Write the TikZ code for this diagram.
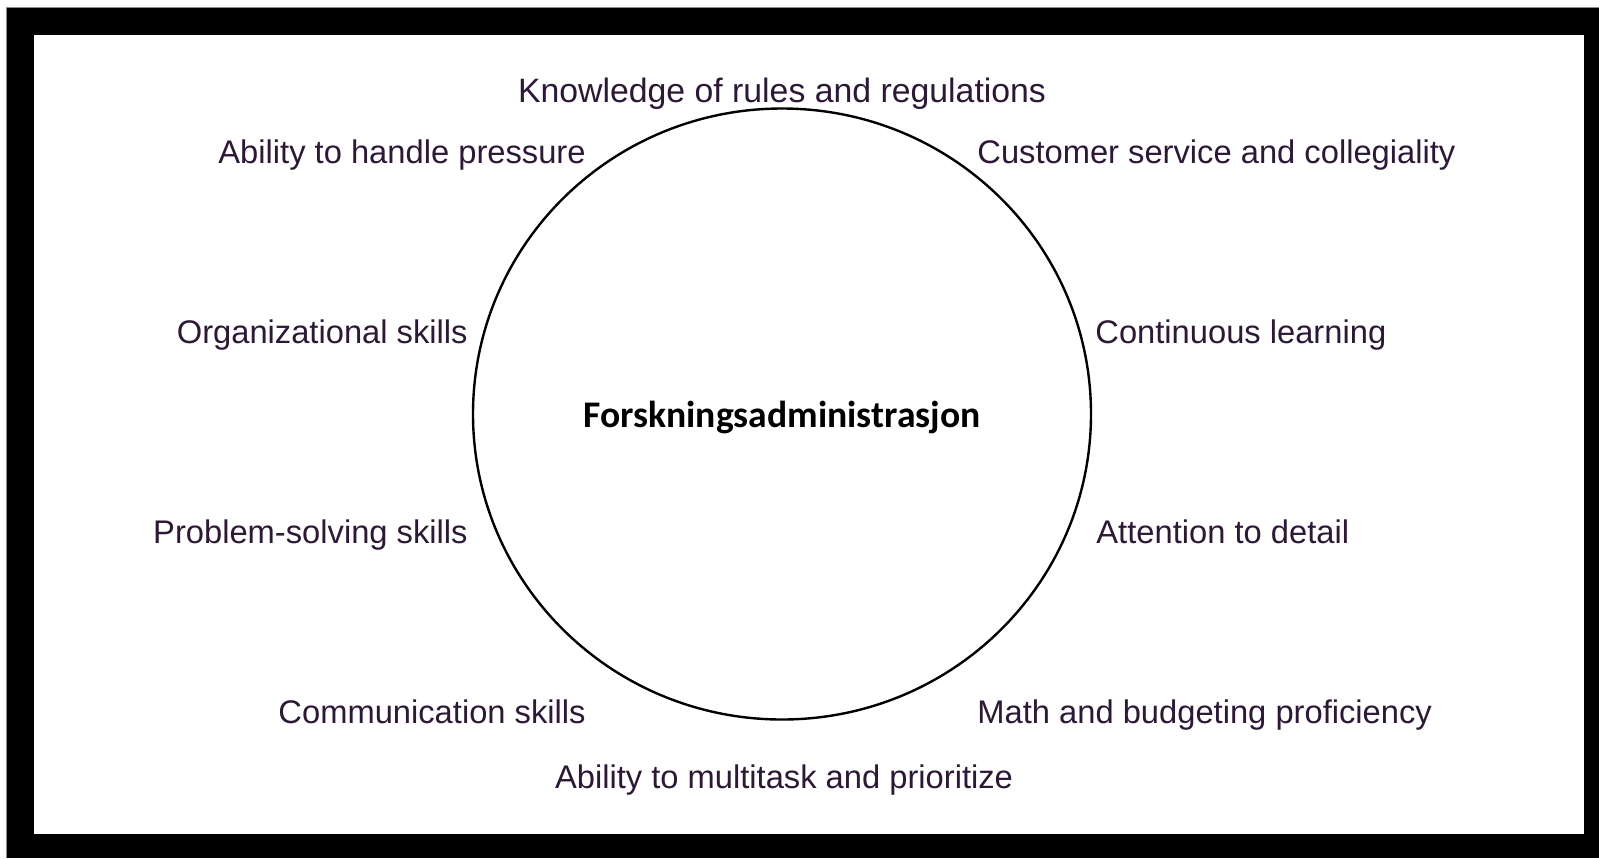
\documentclass[tikz,border=0pt]{standalone}
\usepackage{fontspec}
\setmainfont{Liberation Sans}
\newfontfamily\hubfont{Carlito}
\usetikzlibrary{shapes.geometric}
\definecolor{skilltext}{RGB}{45,25,55}

\begin{document}
\begin{tikzpicture}[x=0.5pt,y=-0.5pt]
\tikzstyle{skill}=[inner sep=0pt,text=skilltext,font=\fontsize{16.35}{20}\selectfont]
\tikzstyle{hub}=[ellipse,draw,line width=1.2pt,minimum width=309pt,minimum height=305.5pt,inner sep=0pt]
\tikzstyle{title}=[inner sep=0pt,anchor=base,font=\hubfont\bfseries\fontsize{18.8}{22}\selectfont]
\useasboundingbox (0,0) rectangle (1599,858);
% frame
\fill[black!45] (6,7) rectangle (1599,858);
\fill[black] (7,8) rectangle (1599,858);
\fill[white] (34,35) rectangle (1584,834);
% centre
\node[hub] (hub) at (782,414) {};
\node[title] (title) at (782,427) {Forskningsadministrasjon};
% skills round the circle
\node[skill,anchor=base,font=\fontsize{16.9}{20}\selectfont] (rules) at (782,102) {Knowledge of rules and regulations};
\foreach \name/\point/\where/\txt in {
	pressure/{586,163}/base east/Ability to handle pressure,
	service/{977,163}/base west/Customer service and collegiality,
	organizing/{468,343}/base east/Organizational skills,
	learning/{1095,343}/base west/Continuous learning,
	problems/{468,543}/base east/Problem-solving skills,
	detail/{1096,543}/base west/Attention to detail,
	communication/{586,723}/base east/Communication skills,
	budgeting/{977,723}/base west/Math and budgeting proficiency,
	multitask/{784,788}/base/Ability to multitask and prioritize}
	\node[skill,anchor=\where] (\name) at (\point) {\txt};
\end{tikzpicture}
\end{document}
